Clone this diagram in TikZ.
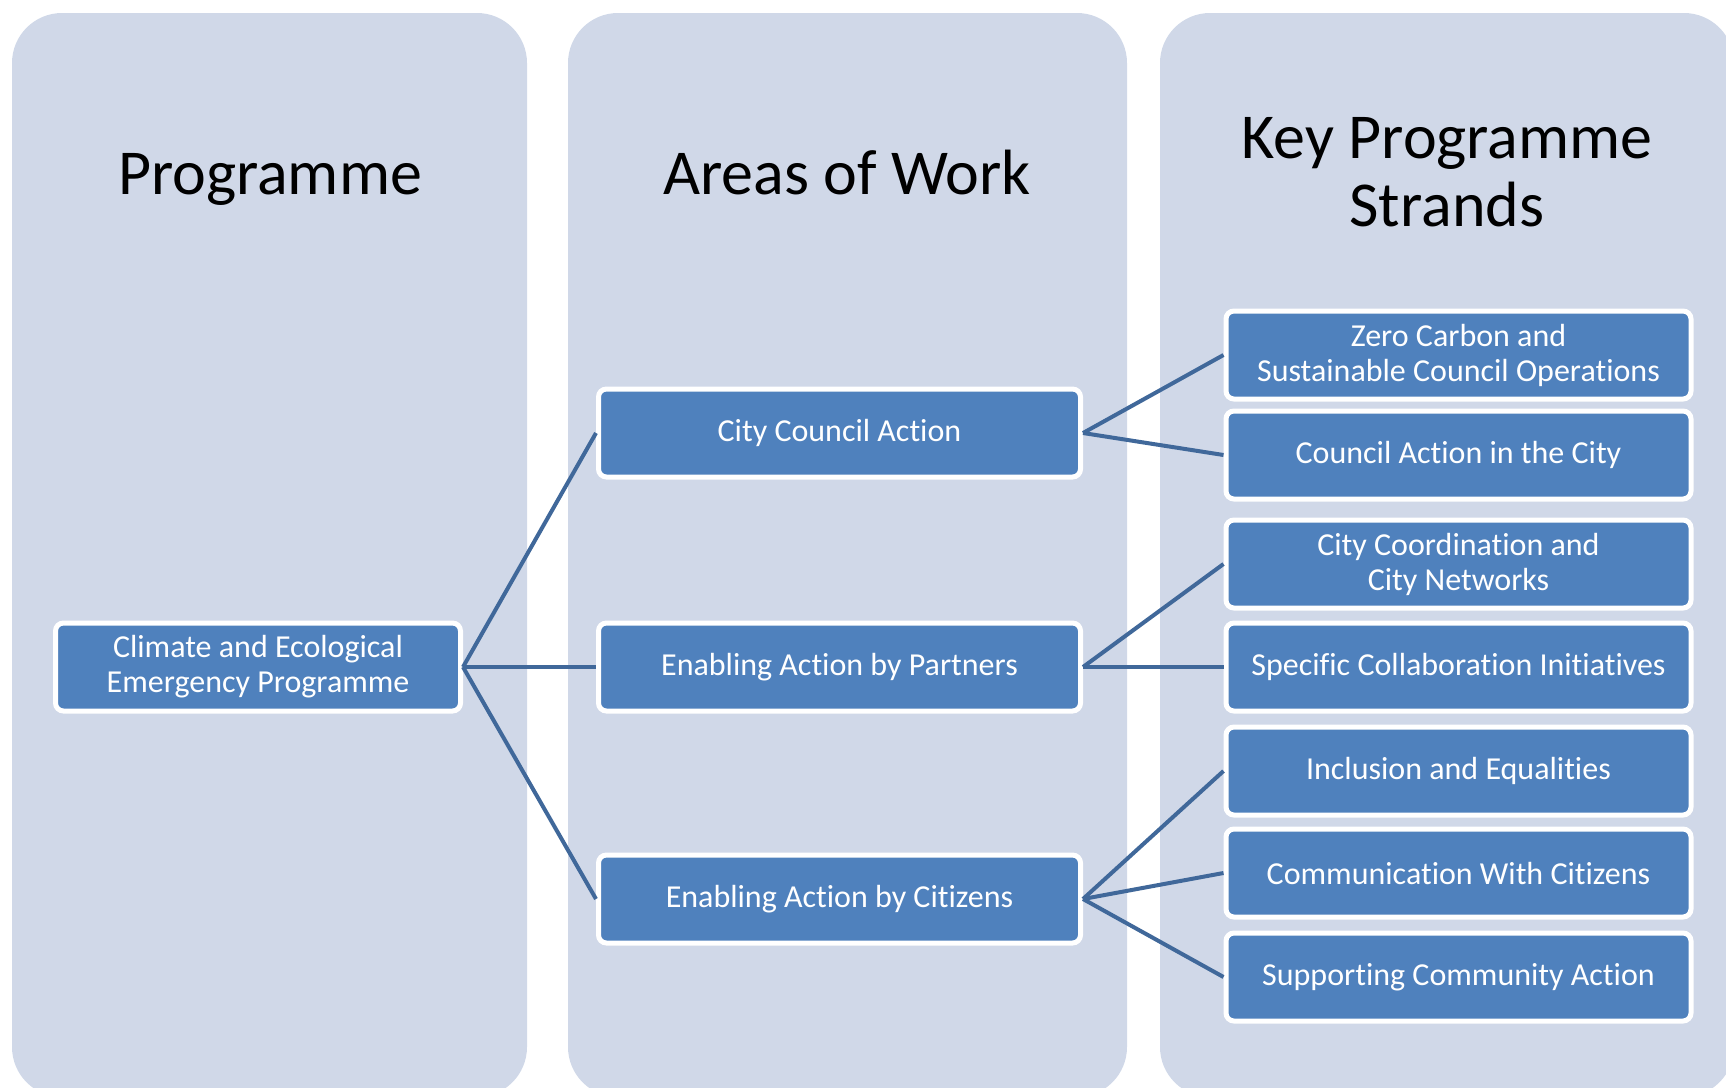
\documentclass[tikz,border=0pt]{standalone}
\usepackage{fontspec}
\setmainfont{Carlito}[Ligatures=NoCommon]
\definecolor{colfill}{RGB}{208,216,232}
\definecolor{boxfill}{RGB}{79,129,189}
\definecolor{linkcol}{RGB}{64,104,154}

\begin{document}
\begin{tikzpicture}[x=0.5pt,y=-0.5pt,
	box/.style={draw=white,line width=2.5pt,fill=boxfill,rounded corners=4pt,text=white,
		font=\fontsize{16}{17.5}\selectfont,align=center,minimum height=44pt,inner sep=0pt},
	link/.style={draw=linkcol,line width=2pt},
	heading/.style={font=\fontsize{32}{34}\selectfont,align=center}]
	\useasboundingbox (0,0) rectangle (1726,1088);
	\clip (0,0) rectangle (1726,1088);
	\foreach \l/\r in {12/527,568/1127,1160/1734}{
		\fill[colfill,rounded corners=25pt] (\l,13) rectangle (\r,1097);}
	\node[heading,anchor=base] (hprog) at (270,194) {Programme};
	\node[heading,anchor=base] (hwork) at (847,194) {Areas of Work};
	\node[heading] (hstrand) at (1447,172) {Key Programme\\Strands};
	\node[box,minimum width=202.5pt] (prog) at (258,667) {Climate and Ecological\\Emergency Programme};
	\foreach \y/\n/\t in {433/cca/City Council Action,667/eap/Enabling Action by Partners,899/eac/Enabling Action by Citizens}{
		\node[box,minimum width=241pt] (\n) at (839.5,\y) {\t};}
	\foreach \y/\n/\t in {355/s1/{Zero Carbon and\\Sustainable Council Operations},455/s2/Council Action in the City,
		564/s3/{City Coordination and\\City Networks},667/s4/Specific Collaboration Initiatives,
		771/s5/Inclusion and Equalities,873/s6/Communication With Citizens,977/s7/Supporting Community Action}{
		\node[box,minimum width=232.5pt] (\n) at (1458.5,\y) {\t};}
	\foreach \n in {cca,eap,eac}{
		\draw[link] (prog.east) -- (\n.west);}
	\foreach \a/\b in {cca/s1,cca/s2,eap/s3,eap/s4,eac/s5,eac/s6,eac/s7}{
		\draw[link] (\a.east) -- (\b.west);}
\end{tikzpicture}
\end{document}
